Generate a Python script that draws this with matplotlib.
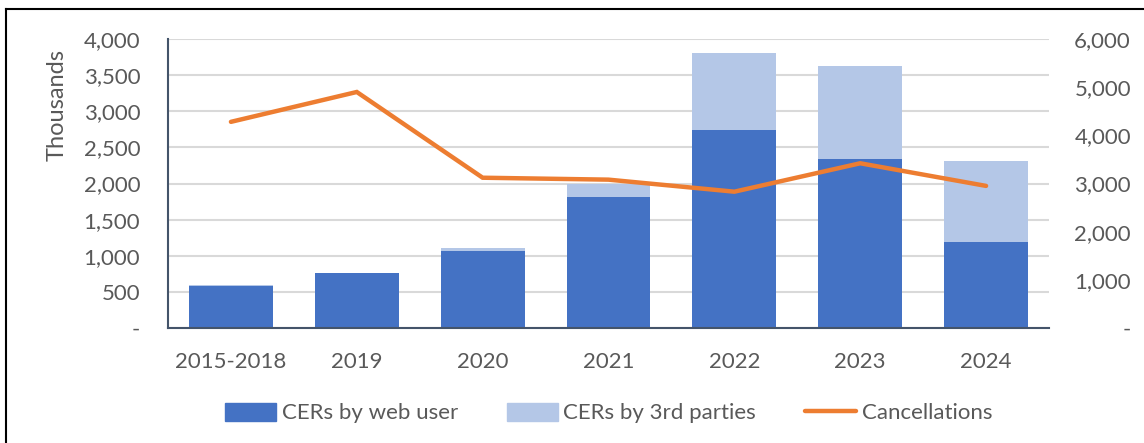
import numpy as np
import matplotlib
matplotlib.use("Agg")
import matplotlib.pyplot as plt
from matplotlib.lines import Line2D
from matplotlib.patches import Patch
from matplotlib.ticker import FuncFormatter

# ── Data ──────────────────────────────────────────────────────────────────────
categories    = ["2015-2018", "2019", "2020", "2021", "2022", "2023", "2024"]
web_user      = [580, 760, 1060, 1820, 2740, 2340, 1190]   # thousands
third_parties = [20, 5, 50, 170, 1070, 1290, 1120]         # thousands
cancellations = [4280, 4900, 3120, 3080, 2830, 3420, 2950]

# ── Style ─────────────────────────────────────────────────────────────────────
BLUE   = "#4472C4"
LIGHT  = "#B4C7E7"
ORANGE = "#ED7D31"
TXT    = "#595959"
GRID   = "#D9D9D9"
SPINE  = "#44546A"
FS     = 16
plt.rcParams["font.family"] = ["Lato", "DejaVu Sans"]

def fmt(v, _):
    return "-" if v == 0 else f"{v:,.0f}"

fig = plt.figure(figsize=(11.44, 4.43), dpi=100)
ax = fig.add_axes([168 / 1144, 1 - 328 / 443, (1049 - 168) / 1144, (328 - 39) / 443])
ax2 = ax.twinx()

x = np.arange(len(categories))
ax.bar(x, web_user, width=0.667, color=BLUE, zorder=2)
ax.bar(x, third_parties, width=0.667, bottom=web_user, color=LIGHT, zorder=2)

ax2.plot(x, cancellations, color=ORANGE, lw=3.2, solid_capstyle="round",
         solid_joinstyle="miter", zorder=3)

ax.set_xlim(-0.5, len(categories) - 0.5)
ax.set_ylim(0, 4000)
ax.set_yticks(np.arange(0, 4001, 500))
ax.yaxis.set_major_formatter(FuncFormatter(fmt))
ax2.set_ylim(0, 6000)
ax2.set_yticks(np.arange(0, 6001, 1000))
ax2.yaxis.set_major_formatter(FuncFormatter(fmt))

ax.grid(axis="y", color=GRID, lw=1.5, zorder=0)
ax.set_axisbelow(True)
ax.set_xticks(x)
ax.set_xticklabels(categories)

for a in (ax, ax2):
    a.spines[["top", "right"]].set_visible(False)
    a.tick_params(length=0, labelsize=FS, labelcolor=TXT)
ax2.spines[["left", "bottom"]].set_visible(False)
for s in ("left", "bottom"):
    ax.spines[s].set_color(SPINE)
    ax.spines[s].set_linewidth(1.5)
ax.tick_params(axis="y", pad=20)
ax.tick_params(axis="x", pad=17)
# right-hand labels are right-aligned like Excel
ax2.tick_params(axis="y", pad=59)
plt.setp(ax2.get_yticklabels(), ha="right")

fig.text(57 / 1144, 1 - 105 / 443, "Thousands", rotation=90, ha="center",
         va="center", fontsize=17, color=TXT)

handles = [Patch(color=BLUE, label="CERs by web user"),
           Patch(color=LIGHT, label="CERs by 3rd parties"),
           Line2D([], [], color=ORANGE, lw=3.2, solid_capstyle="round",
                  label="Cancellations")]
leg = fig.legend(handles=handles, loc="center", bbox_to_anchor=(0.532, 1 - 413 / 443),
                 ncol=3, frameon=False, fontsize=FS, handlelength=2.3,
                 handleheight=0.9, handletextpad=0.25, columnspacing=2.2)
for t in leg.get_texts():
    t.set_color(TXT)

# outer border (left and top only visible)
fig.add_artist(Line2D([6 / 1144, 6 / 1144], [0, 1 - 9 / 443], color="black",
                      lw=1.5, transform=fig.transFigure))
fig.add_artist(Line2D([6 / 1144, 1], [1 - 9 / 443, 1 - 9 / 443], color="black",
                      lw=1.5, transform=fig.transFigure))

fig.savefig("out.png", dpi=100)
